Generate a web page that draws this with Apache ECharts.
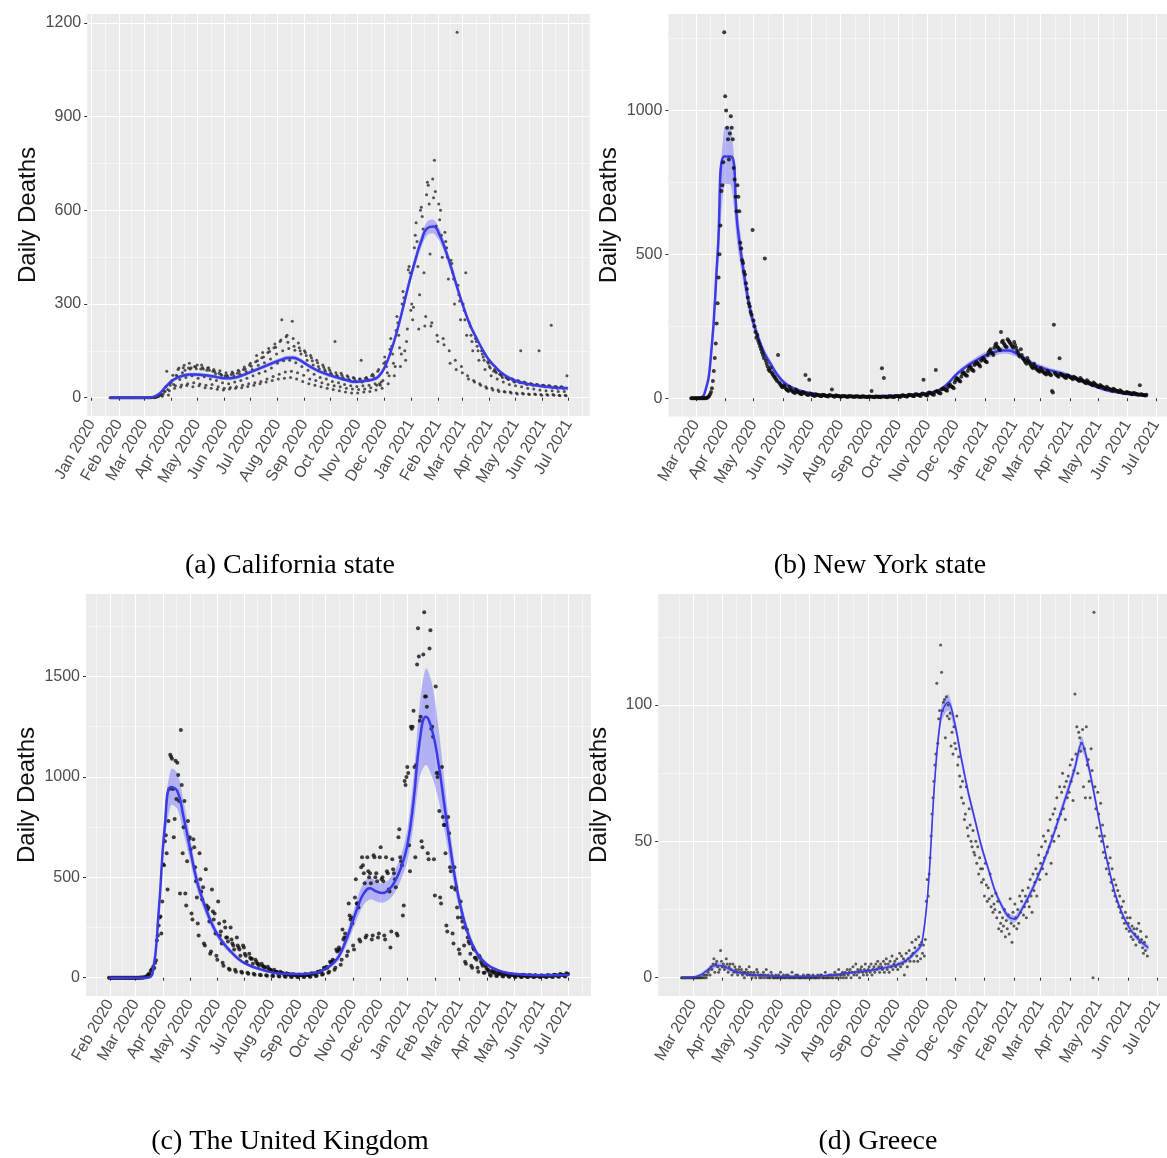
<!DOCTYPE html>
<html lang="en">
<head>
<meta charset="utf-8">
<title>Daily deaths with smoothed trend</title>
<script src="https://cdn.jsdelivr.net/npm/echarts@6.0.0/dist/echarts.min.js"></script>
<style>
  html, body { margin: 0; padding: 0; background: #ffffff; }
  #chart { width: 1167px; height: 1158px; }
</style>
</head>
<body>
<div id="chart"></div>
<script>
// ---------- axis breaks ----------
const monthBreaks = [
  '2020-01-01','2020-02-01','2020-03-01','2020-04-01','2020-05-01','2020-06-01',
  '2020-07-01','2020-08-01','2020-09-01','2020-10-01','2020-11-01','2020-12-01',
  '2021-01-01','2021-02-01','2021-03-01','2021-04-01','2021-05-01','2021-06-01','2021-07-01'
];
const caMonths = monthBreaks.slice(0);   // Jan 2020 .. Jul 2021
const nyMonths = monthBreaks.slice(2);   // Mar 2020 .. Jul 2021
const ukMonths = monthBreaks.slice(1);   // Feb 2020 .. Jul 2021
const grMonths = monthBreaks.slice(2);   // Mar 2020 .. Jul 2021

const caYTicks = [0, 300, 600, 900, 1200];
const nyYTicks = [0, 500, 1000];
const ukYTicks = [0, 500, 1000, 1500];
const grYTicks = [0, 50, 100];

// ---------- (a) California: daily deaths from caStart ----------
const caStart = '2020-01-22';
const caDeaths = [
  0,0,0,0,0,0,0, 0,0,0,0,0,0,0, 0,0,0,0,0,0,0, 0,0,0,0,0,0,0, 0,0,0,0,0,0,0, 0,0,0,0,0,0,0,
  1,0,0,0,1,0,1, 1,2,0,1,3,2,5, 5,8,11,9,5,12,21, 20,36,85,26,9,22,40,
  48,55,72,42,30,38,72, 68,90,95,58,34,41,80, 96,104,88,65,39,45,95, 110,92,96,70,35,48,100,
  98,93,105,62,38,44,92, 105,97,92,67,32,40,88, 95,96,88,60,30,42,85, 90,84,77,55,27,35,78,
  86,75,72,48,25,30,70, 80,72,68,45,28,33,74, 82,78,70,50,30,35,78, 88,84,75,55,32,40,90,
  98,92,84,62,36,45,105, 110,101,90,70,40,48,115, 135,118,104,78,45,52,128, 145,130,112,85,50,60,145,
  158,148,124,95,55,68,160, 172,162,140,110,60,75,180, 185,250,150,118,62,82,195, 200,178,158,120,65,85,245,
  190,165,152,112,60,80,175, 160,150,140,100,52,72,150, 145,135,120,88,45,60,135, 128,118,105,75,40,55,120,
  112,100,92,65,35,48,105, 98,90,85,60,30,42,95, 88,80,75,52,26,38,180, 80,72,68,48,22,35,78,
  72,65,60,42,18,30,70, 66,58,55,38,15,28,65, 62,55,52,36,15,26,60, 60,120,50,38,18,28,62,
  65,60,55,40,20,32,70, 75,70,62,45,25,40,85, 90,45,40,50,30,55,110, 130,115,100,80,45,70,155,
  190,165,140,110,70,100,215, 260,240,200,160,100,140,300, 340,320,150,120,180,220,410, 420,400,280,300,250,290,480,
  520,560,500,420,220,330,600, 610,580,540,400,230,260,650, 690,680,620,460,230,240,700, 640,760,660,550,200,180,620,
  570,600,520,450,190,170,530, 500,480,450,380,150,110,440, 430,400,380,300,120,90,1170, 360,330,310,250,100,80,300,
  280,250,400,200,70,60,240, 230,200,180,150,55,50,190, 180,165,150,120,45,40,150, 140,130,120,90,35,30,115,
  110,100,95,70,30,25,85, 90,85,80,60,25,20,75, 75,70,65,50,20,18,65, 65,60,58,42,18,15,60,
  58,52,50,38,15,12,55, 52,48,150,35,14,12,50, 48,45,42,30,12,10,45, 45,42,40,28,12,10,42,
  42,40,150,25,10,8,40, 40,38,35,22,10,8,38, 38,35,232,22,10,8,35, 36,34,30,20,8,6,34,
  35,32,30,20,8,6,70
];
// smoothed trend and ribbon half-width, one value per week from caStart
const caFit = [
  0,0,0,0,0,0,0,2,12,32, 52,64,71,74,74,73,71,68,64,62,
  63,67,74,82,90,98,106,114,121,127, 128,121,109,97,87,79,72,66,60,55,
  51,52,55,58,68,98,148,212,288,368, 440,502,543,548,520,470,410,345,285,232,
  192,155,123,101,82,68,58,51,46,42, 39,36,34,32,31,30
];
const caBand = [
  3,3,3,3,3,3,3,4,5,6, 6,6,6,6,6,6,6,6,6,6,
  6,6,6,6,6,7,7,7,7,7, 7,7,7,7,6,6,6,6,6,6,
  6,6,6,6,7,8,10,12,14,16, 18,20,22,22,20,18,16,14,12,10,
  9,8,7,7,6,6,6,6,5,5, 5,5,5,5,5,6
];

// ---------- (b) New York state ----------
const nyStart = '2020-02-25';
const nyDeaths = [
  0,0,0,0,0,0,0, 0,0,0,0,0,0,0, 0,0,1,2,4,8,14,
  22,35,60,95,140,190,260, 330,420,500,600,720,740,820, 1272,1050,1000,940,900,830,920, 980,940,900,800,760,700,650,
  740,700,650,540,520,480,470, 440,430,400,380,350,330,320, 300,290,585,270,250,230,210, 220,200,190,180,170,160,150,
  140,486,130,120,110,100,95, 105,90,85,80,75,70,65, 60,150,55,50,45,40,38, 45,42,35,30,28,25,40,
  32,28,25,22,20,18,30, 25,22,20,18,15,14,22, 20,18,81,15,12,11,64, 16,14,12,10,9,8,14,
  12,11,10,9,8,7,12, 11,10,9,8,7,6,10, 10,9,30,8,6,5,9, 9,8,8,7,5,5,8,
  8,7,7,6,5,4,8, 7,7,6,6,5,4,7, 7,6,6,5,4,4,7, 6,6,5,5,4,4,6,
  6,5,25,5,4,3,6, 6,5,5,4,4,3,104, 6,70,5,5,4,3,6, 7,6,6,5,4,4,7,
  8,7,7,6,5,5,9, 10,9,8,7,6,6,11, 12,11,10,9,8,7,13, 14,13,12,10,9,8,15,
  16,64,14,12,10,9,18, 20,19,17,15,13,12,22, 98,25,23,20,18,16,30, 33,35,32,30,28,26,38,
  45,48,42,40,38,35,55, 62,70,68,65,60,58,75, 85,90,88,82,80,78,95, 105,110,108,100,98,95,115,
  120,125,122,118,115,110,130, 135,140,138,130,128,125,150, 160,165,170,158,155,150,175, 185,190,180,175,170,168,230,
  195,200,190,185,180,178,205, 200,195,190,185,180,175,195, 185,175,165,160,150,145,170, 150,140,135,130,125,120,140,
  130,125,118,112,108,104,120, 110,105,100,98,95,92,105, 98,95,90,88,85,82,95, 90,86,82,80,25,20,255,
  88,84,80,78,75,139,85, 82,80,78,75,72,70,80, 78,76,74,72,70,66,75, 72,70,68,65,62,60,70,
  65,62,60,58,55,52,62, 58,55,52,50,48,45,55, 50,48,45,42,40,38,46, 42,40,38,36,34,32,40,
  35,33,31,30,28,26,33, 30,28,26,25,23,22,28, 24,22,20,19,18,17,22, 20,19,18,17,15,14,18,
  17,16,15,14,13,12,45, 14,13,12,11,10,9,12
];
const nyFit = [
  0,0,15,150,500,840,840,600,430,300, 220,160,120,82,56,40,30,23,18,14,
  11,9,8,7,7,7,7,7,7,8, 8,9,10,11,13,15,18,24,35,55,
  80,100,116,130,143,153,161,166,166,158, 144,128,115,106,98,92,86,79,70,60,
  51,42,34,27,22,18,15,12,10,8
];
const nyBand = [
  2,2,5,30,70,100,100,70,45,30, 20,15,12,10,8,6,5,5,4,4,
  4,4,4,4,4,4,4,4,4,4, 4,4,4,4,4,4,5,5,6,7,
  8,9,10,11,12,12,12,12,12,12, 11,10,9,9,9,9,9,8,8,7,
  7,6,6,5,5,4,4,4,4,4
];

// ---------- (c) The United Kingdom ----------
const ukStart = '2020-01-31';
const ukDeaths = [
  0,0,0,0,0,0,0, 0,0,0,0,0,0,0, 0,0,0,0,0,0,0, 0,0,0,0,0,0,0, 0,0,0,0,0,0,0,
  1,0,1,0,2,1,3, 2,10,14,20,15,33,42, 40,56,48,74,87,185,210, 260,300,305,220,380,565,560,
  680,710,620,440,780,940,1110, 1100,1090,940,700,790,1080,890, 1070,1010,880,420,1234,960,620, 750,880,420,360,580,780,690,
  700,640,320,290,690,650,550, 480,400,270,210,620,490,430, 390,450,170,160,540,360,340, 350,280,120,130,440,330,290,
  320,220,110,90,380,270,210, 230,170,75,60,280,250,200, 200,180,45,40,250,190,170, 160,140,40,30,200,160,150,
  140,110,30,25,160,150,120, 110,80,25,20,120,100,95, 95,70,20,15,90,80,70, 70,60,15,12,70,60,55,
  55,50,12,10,55,45,40, 40,35,10,8,40,30,30, 30,25,8,6,30,25,22, 22,18,6,5,22,18,16,
  18,15,5,4,18,15,14, 15,12,4,3,16,13,12, 14,12,5,4,18,15,14, 16,14,6,5,22,20,20,
  22,20,8,10,30,28,30, 34,30,15,18,50,45,48, 55,50,25,30,80,75,80, 90,85,40,50,140,130,135,
  150,140,65,90,240,190,200, 220,200,110,130,370,310,290, 300,270,160,140,400,490,370, 370,350,190,180,550,600,560,
  520,470,200,210,600,530,500, 520,470,190,210,610,600,500, 520,480,200,220,600,650,490, 500,480,210,190,600,530,520,
  440,430,150,230,590,540,520, 490,450,220,210,700,740,600, 580,560,310,360,980,960,1000, 1050,1020,660,530,1250,1240,1250,
  1330,1050,600,1060,1560,1740,1600, 1280,1300,680,650,1610,1820,1400, 1400,1350,620,590,1640,1730,1240, 1250,1200,590,410,1450,1020,1000,
  1020,830,400,370,1050,800,760, 760,620,260,230,800,720,550, 530,450,220,170,550,440,450, 350,300,140,120,380,300,280,
  250,160,80,70,240,200,180, 170,120,60,50,150,140,100, 100,90,50,30,110,100,80, 70,60,25,25,60,50,40,
  40,30,15,10,35,30,25, 30,25,10,8,25,20,20, 25,20,8,6,22,18,16, 20,15,6,5,18,15,14,
  16,12,5,4,16,14,12, 14,10,4,3,15,12,10, 12,9,4,3,14,11,10, 11,9,4,3,13,10,9,
  10,8,3,3,12,10,9, 10,8,4,3,13,11,10, 11,9,5,4,15,13,12, 12,10,6,5,18,16,15,
  14,12,8,6,22,20,18
];
const ukFit = [
  0,0,0,0,0,0,0,20,330,760, 950,930,800,650,500,395,310,240,190,150,
  118,90,70,56,46,36,28,22,20,19, 19,19,20,23,32,48,70,108,175,260,
  350,420,445,430,422,438,480,550,660,880, 1180,1300,1230,1070,850,630,440,300,200,132,
  90,62,45,33,25,20,17,15,13,12, 12,12,12,13,13
];
const ukBand = [
  3,3,3,3,3,3,3,8,40,80, 90,90,80,60,45,35,28,22,18,15,
  12,10,8,7,6,6,5,5,5,5, 5,5,5,5,6,8,12,18,28,40,
  50,55,55,50,48,50,55,60,80,120, 180,240,230,180,120,80,50,35,25,18,
  12,10,8,6,5,5,5,5,5,5, 5,5,5,5,5
];

// ---------- (d) Greece ----------
const grStart = '2020-02-18';
const grDeaths = [
  0,0,0,0,0,0,0, 0,0,0,0,0,0,0, 0,0,0,0,0,0,0,
  0,0,1,0,1,0,1, 2,3,1,4,3,5,7, 2,5,6,4,2,3,10, 6,4,5,3,4,7,5,
  2,4,5,3,1,5,2, 4,3,2,1,3,4,2, 3,1,2,0,2,3,1, 2,4,1,2,0,1,2,
  1,0,3,2,1,0,1, 0,1,2,0,1,3,0, 1,0,0,2,1,0,0, 0,1,0,0,1,0,2,
  0,0,1,0,0,1,0, 1,0,0,0,2,0,0, 0,1,0,1,0,0,0, 0,0,1,0,0,0,1,
  0,1,0,0,0,1,0, 0,0,0,1,0,0,1, 1,0,0,0,2,0,0, 0,1,0,1,0,0,1,
  2,0,1,0,3,1,0, 1,2,0,1,2,0,3, 1,2,3,0,2,4,1, 2,5,1,3,2,0,3,
  4,2,1,3,5,2,1, 3,4,2,5,1,3,4, 2,5,3,6,4,2,5, 4,3,6,2,5,7,3,
  5,2,6,4,8,3,5, 6,4,7,3,5,9,4, 8,5,7,1,6,9,4, 7,10,6,8,13,9,6,
  11,14,8,6,15,12,7, 13,9,12,8,14,28,36, 30,38,44,52,60,66,72, 78,82,108,86,95,98,122,
  112,98,101,102,88,103,96, 100,95,97,85,90,82,92, 86,84,96,78,81,74,70, 66,72,64,58,60,70,55,
  52,62,56,50,48,54,46, 45,50,42,48,38,44,40, 35,40,36,30,42,34,28, 33,29,38,26,30,24,27,
  25,31,22,28,18,24,20, 17,22,19,25,15,21,18, 23,16,29,20,13,24,19, 27,22,18,25,20,30,24,
  28,32,23,26,30,22,28, 33,26,36,30,24,38,32, 35,40,30,38,45,36,42, 48,40,52,44,50,38,46,
  54,48,58,42,52,60,50, 62,55,66,58,52,70,60, 68,75,62,70,58,72,66, 74,68,78,72,80,65,76,
  104,82,92,75,90,88,83, 86,91,70,84,66,92,78, 80,72,66,84,76,0,134, 70,62,55,68,60,52,64,
  50,56,46,52,44,40,48, 42,38,44,35,40,32,36, 30,34,28,32,26,30,24, 26,22,28,20,24,18,22,
  20,17,22,15,19,14,18, 16,12,18,15,20,13,17, 14,11,9,13,10,15,8
];
const grFit = [
  0,0,0.3,1.2,3,4.5,4.4,3.4,2.4,1.7, 1.3,1.0,0.8,0.7,0.6,0.5,0.5,0.5,0.5,0.5,
  0.6,0.7,0.9,1.1,1.4,1.7,2.0,2.3,2.6,3.0, 3.4,3.9,4.5,5.4,6.8,9.2,12.3,33,73,97,
  101,93,80,68,58,48,40,32,26.5,22.5, 21.5,25,29.5,34.5,40.5,47,54,61.5,69,77,
  86,78,66,53,41,31,24,19,15.5,13, 11
];
const grBand = [
  0.5,0.5,0.5,0.6,0.8,1,1,0.9,0.8,0.7, 0.6,0.6,0.5,0.5,0.5,0.5,0.5,0.5,0.5,0.5,
  0.5,0.5,0.5,0.5,0.5,0.5,0.6,0.6,0.6,0.7, 0.7,0.7,0.8,0.8,0.9,1,1.2,2,2.5,3,
  3,2.5,2,1.8,1.6,1.5,1.4,1.3,1.3,1.3, 1.3,1.3,1.4,1.4,1.5,1.6,1.7,1.8,2,2.2,
  2.5,2.2,2,1.8,1.5,1.3,1.2,1.1,1,1, 1
];

// ---------- drawing ----------
const DAY = 86400000;
const MONTH_NAMES = ['Jan','Feb','Mar','Apr','May','Jun','Jul','Aug','Sep','Oct','Nov','Dec'];
const PANEL_BG = '#ebebeb';
const AXIS_TEXT = '#4d4d4d';
const TREND = '#3a3ae6';
const RIBBON = 'rgba(96,96,255,0.42)';
const TICK_FONT = 16;

function toMs(s) {
  const p = s.split('-').map(Number);
  return Date.UTC(p[0], p[1] - 1, p[2]);
}
function monthLabel(v) {
  const d = new Date(Math.round(v / DAY) * DAY);
  return MONTH_NAMES[d.getUTCMonth()] + ' ' + d.getUTCFullYear();
}
// minor breaks sit halfway between month breaks (one extra month on each side)
const monthEdges = ['2019-12-01'].concat(monthBreaks, ['2021-08-01']).map(toMs);
const minorX = [];
for (let k = 1; k < monthEdges.length; k++) minorX.push((monthEdges[k - 1] + monthEdges[k]) / 2);

function minorOf(ticks) {
  const step = ticks[1] - ticks[0];
  return [ticks[0] - step / 2].concat(ticks.map(v => v + step / 2));
}

const panels = [
  { start: caStart, deaths: caDeaths, fit: caFit, band: caBand, months: caMonths, yTicks: caYTicks,
    caption: '(a) California state',
    rect: { left: 87.2, top: 14, width: 502.6, height: 402 }, captionAt: [290, 566],
    pointSize: 3, pointColor: '#2b2b2b', lineWidth: 2.5, smooth: 0.5, pointsOnTop: false },
  { start: nyStart, deaths: nyDeaths, fit: nyFit, band: nyBand, months: nyMonths, yTicks: nyYTicks,
    caption: '(b) New York state',
    rect: { left: 668.4, top: 14, width: 500.8, height: 402.5 }, captionAt: [880, 566],
    pointSize: 4, pointColor: '#0d0d0d', lineWidth: 2.5, smooth: 0.5, pointsOnTop: true },
  { start: ukStart, deaths: ukDeaths, fit: ukFit, band: ukBand, months: ukMonths, yTicks: ukYTicks,
    caption: '(c) The United Kingdom',
    rect: { left: 86, top: 594, width: 505, height: 402 }, captionAt: [290, 1142],
    pointSize: 4, pointColor: '#111111', lineWidth: 2.5, smooth: 0.5, pointsOnTop: false },
  { start: grStart, deaths: grDeaths, fit: grFit, band: grBand, months: grMonths, yTicks: grYTicks,
    caption: '(d) Greece',
    rect: { left: 658.2, top: 594, width: 512.4, height: 402 }, captionAt: [878, 1142],
    pointSize: 3, pointColor: '#333333', lineWidth: 1.6, smooth: 0.35, pointsOnTop: false }
];

const option = {
  animation: false,
  backgroundColor: '#ffffff',
  textStyle: { fontFamily: 'Liberation Sans' },
  grid: [], xAxis: [], yAxis: [], series: [], graphic: []
};

panels.forEach(function (p, i) {
  const t0 = toMs(p.start);
  const span = (p.deaths.length - 1) * DAY;
  const xMin = t0 - 0.05 * span;
  const xMax = t0 + 1.05 * span;
  const top = Math.max.apply(null, p.deaths);
  const yMin = -0.05 * top;
  const yMax = 1.05 * top;
  const majorX = p.months.map(toMs);

  option.grid.push({
    left: p.rect.left, top: p.rect.top, width: p.rect.width, height: p.rect.height,
    show: true, backgroundColor: PANEL_BG, borderWidth: 0, containLabel: false, outerBoundsMode: 'none'
  });

  option.xAxis.push({
    type: 'value', gridIndex: i, min: xMin, max: xMax, position: 'bottom',
    axisLine: { show: false },
    axisTick: { show: true, length: 3, lineStyle: { color: '#333333', width: 1 }, customValues: majorX },
    axisLabel: {
      show: true, customValues: majorX, formatter: monthLabel, rotate: 60,
      margin: 5, padding: [18, 0, 0, 0], color: AXIS_TEXT, fontSize: TICK_FONT, fontFamily: 'Liberation Sans',
      hideOverlap: false
    },
    splitLine: { show: true, lineStyle: { color: '#ffffff', width: 1 } }
  });
  option.xAxis.push({
    type: 'value', gridIndex: i, min: xMin, max: xMax, position: 'top',
    axisLine: { show: false }, axisLabel: { show: false },
    axisTick: { show: false, customValues: minorX },
    splitLine: { show: true, lineStyle: { color: '#ffffff', width: 0.5 } }
  });

  option.yAxis.push({
    type: 'value', gridIndex: i, min: yMin, max: yMax, position: 'left',
    name: 'Daily Deaths', nameLocation: 'middle', nameGap: 47, nameRotate: 90,
    nameTextStyle: { color: '#111111', fontSize: 24, fontFamily: 'Liberation Sans' },
    axisLine: { show: false },
    axisTick: { show: true, length: 3, lineStyle: { color: '#333333', width: 1 }, customValues: p.yTicks },
    axisLabel: { customValues: p.yTicks, formatter: v => String(v), color: AXIS_TEXT, fontSize: TICK_FONT, margin: 6 },
    splitLine: { show: true, lineStyle: { color: '#ffffff', width: 1 } }
  });
  option.yAxis.push({
    type: 'value', gridIndex: i, min: yMin, max: yMax, position: 'right',
    axisLine: { show: false }, axisLabel: { show: false },
    axisTick: { show: false, customValues: minorOf(p.yTicks) },
    splitLine: { show: true, lineStyle: { color: '#ffffff', width: 0.5 } }
  });

  const xi = 2 * i, yi = 2 * i;
  const points = p.deaths.map((v, k) => [t0 + k * DAY, v]);
  const fitPts = p.fit.map((v, k) => [t0 + 7 * k * DAY, v]);
  const bandRows = p.fit.map((v, k) => [t0 + 7 * k * DAY, v - p.band[k], v + p.band[k]]);
  const smooth = p.smooth;

  option.series.push(
    { type: 'custom', name: 'ribbon-' + i, xAxisIndex: xi, yAxisIndex: yi, silent: true, z: 2, clip: true,
      data: [[t0, 0]],
      renderItem: function (params, api) {
        const upper = bandRows.map(r => api.coord([r[0], r[2]]));
        const lower = bandRows.map(r => api.coord([r[0], r[1]])).reverse();
        return { type: 'polygon', shape: { points: upper.concat(lower), smooth: smooth * 0.6 },
                 style: { fill: RIBBON } };
      } },
    { type: 'scatter', name: 'deaths-' + i, xAxisIndex: xi, yAxisIndex: yi, data: points,
      symbol: 'circle', symbolSize: p.pointSize, itemStyle: { color: p.pointColor },
      silent: true, z: p.pointsOnTop ? 5 : 3 },
    { type: 'line', name: 'trend-' + i, xAxisIndex: xi, yAxisIndex: yi, data: fitPts,
      smooth: smooth, symbol: 'none', lineStyle: { color: TREND, width: p.lineWidth }, silent: true, z: 4 }
  );

  option.graphic.push({
    type: 'text', x: p.captionAt[0], y: p.captionAt[1], silent: true,
    style: { text: p.caption, fill: '#000000', fontSize: 28, fontFamily: 'Liberation Serif',
             align: 'center', verticalAlign: 'middle' }
  });
});

const chart = echarts.init(document.getElementById('chart'), null, { renderer: 'canvas' });
chart.setOption(option);
</script>
</body>
</html>
